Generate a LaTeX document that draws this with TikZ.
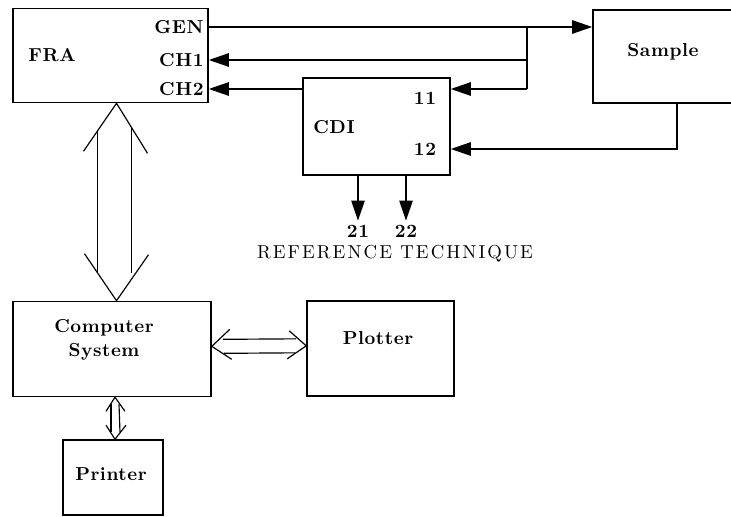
\documentclass[tikz,border=0pt]{standalone}
\usepackage{fontspec}
\setmainfont{lmroman10-regular.otf}[BoldFont=lmroman10-bold.otf]
\usepackage{tikz}
\usetikzlibrary{arrows.meta,calc}

\begin{document}
\begin{tikzpicture}[
  x=0.03cm, y=-0.03cm,
  box/.style={draw, line width=1.3pt, inner sep=0pt},
  port/.style={font=\fontsize{16}{18}\selectfont\bfseries\addfontfeatures{LetterSpace=3}, inner sep=1pt},
  boxtxt/.style={font=\fontsize{16}{19}\selectfont\bfseries\addfontfeatures{LetterSpace=3}, inner sep=1pt},
  arr/.style={-{Triangle[length=6mm, width=4mm]}, line width=1.3pt},
  dbl/.style={line width=1pt, line join=miter}
]
\useasboundingbox (0,0) rectangle (731,517);
% blocks (coordinates in pixels of the original)
\node[box, minimum width=5.85cm, minimum height=2.82cm] (fra) at (110.5,55.5) {};
\node[box, minimum width=5.04cm, minimum height=2.79cm] (sample) at (677,56.5) {};
\node[box, minimum width=4.41cm, minimum height=2.91cm] (cdi) at (376.5,126.5) {};
\node[box, minimum width=5.94cm, minimum height=2.85cm] (comp) at (112,349) {};
\node[box, minimum width=4.41cm, minimum height=2.85cm] (plot) at (380.5,348.5) {};
\node[box, minimum width=3cm, minimum height=2.25cm] (print) at (113,477.5) {};
% texts
\node[port] (fralbl) at (52,55) {FRA};
\node[port, anchor=east] (gen) at (205,27) {GEN};
\node[port, anchor=east] (ch1) at (205,60) {CH1};
\node[port, anchor=east] (ch2) at (205,89) {CH2};
\node[port] (cdilbl) at (334,127) {CDI};
\node[port] (i11) at (425,98) {11};
\node[port] (i12) at (425,149) {12};
\node[port, inner sep=0pt] (o21) at (358,231) {21};
\node[port, inner sep=0pt] (o22) at (406,231) {22};
\node[font=\fontsize{16}{18}\selectfont\addfontfeatures{LetterSpace=11}, inner sep=0pt] (reftech) at (395,254) {REFERENCE TECHNIQUE};
\node[boxtxt] (samplbl) at (663,52) {Sample};
\node[boxtxt, align=center] (complbl) at (104,340) {Computer\\[2pt]System};
\node[boxtxt] (plotlbl) at (378,338) {Plotter};
\node[boxtxt] (printlbl) at (111,474) {Printer};
% signal lines
\coordinate (bus) at (527,0);
\draw[arr] (fra.east |- gen) -- (sample.west |- gen);
\draw[line width=1.3pt] (bus |- gen) -- (bus |- ch2);
\draw[arr] (bus |- ch1) -- (fra.east |- ch1);
\draw[arr] (bus |- ch2) -- (cdi.east |- ch2);
\draw[arr] (cdi.west |- ch2) -- (fra.east |- ch2);
\draw[arr] (sample.south) |- (cdi.east |- i12);
\draw[arr] (cdi.south -| o21) -- ([yshift=0.12cm]o21.north);
\draw[arr] (cdi.south -| o22) -- ([yshift=0.12cm]o22.north);
% double-line links
\coordinate (up) at ([xshift=0.18cm]fra.south);
\coordinate (dn) at ([xshift=0.135cm]comp.north);
\draw[dbl] ($(up)+(-33,48)$) -- (up) -- ($(up)+(31,50)$);
\draw[dbl] ($(dn)+(-32,-47)$) -- (dn) -- ($(dn)+(32,-46)$);
\draw[dbl] ($(up)+(-19,28)$) -- ($(dn)+(-19,-28)$);
\draw[dbl] ($(up)+(15,24)$) -- ($(dn)+(15,-28)$);
\coordinate (cl) at ([yshift=0.08cm]comp.east);
\coordinate (pr) at ([yshift=0.08cm]plot.west);
\draw[dbl] ($(cl)+(18,-17)$) -- (cl) -- ($(cl)+(20,13)$);
\draw[dbl] ($(pr)+(-17,-15)$) -- (pr) -- ($(pr)+(-19,13)$);
\draw[dbl] ($(cl)+(11,-7)$) -- ($(pr)+(-10,-7)$);
\draw[dbl] ($(cl)+(12,7)$) -- ($(pr)+(-11,7)$);
\coordinate (pt) at ([xshift=0.09cm]comp.south);
\coordinate (pb) at ([xshift=0.06cm]print.north);
\draw[dbl] ($(pt)+(-9,14)$) -- (pt) -- ($(pt)+(10,14)$);
\draw[dbl] ($(pb)+(-9,-14)$) -- (pb) -- ($(pb)+(11,-14)$);
\draw[dbl] ($(pt)+(-4,7)$) -- ($(pb)+(-4,-7)$);
\draw[dbl] ($(pt)+(4,7)$) -- ($(pb)+(5,-7)$);
\end{tikzpicture}
\end{document}
